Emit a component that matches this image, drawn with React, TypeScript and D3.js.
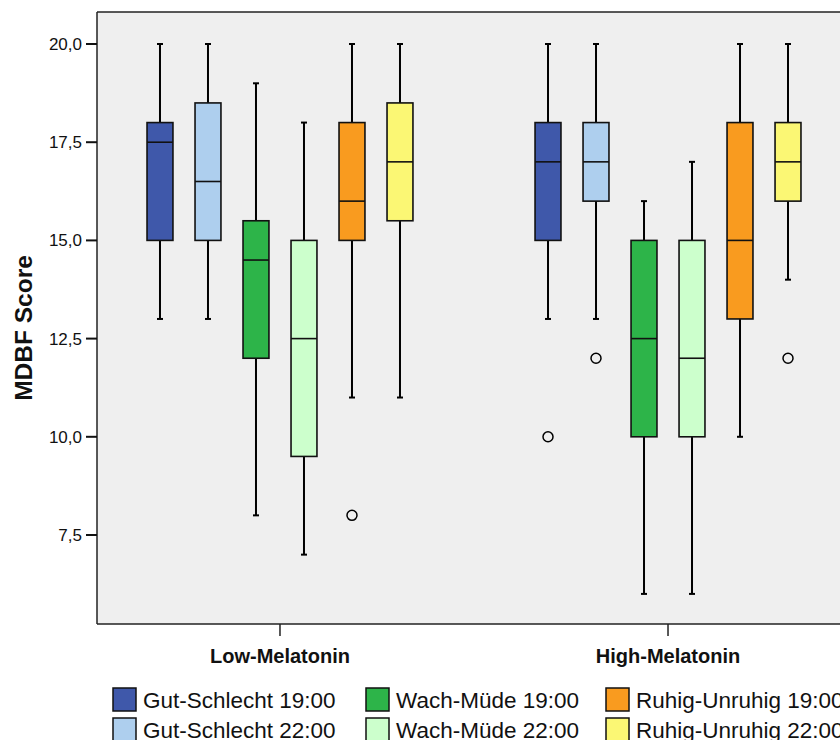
import React from 'react';
import * as d3 from 'd3';

// groups on the x axis
const groups = ['Low-Melatonin', 'High-Melatonin'];

// series (one box per series in each group)
const seriesNames = [
  'Gut-Schlecht 19:00',
  'Gut-Schlecht 22:00',
  'Wach-Müde 19:00',
  'Wach-Müde 22:00',
  'Ruhig-Unruhig 19:00',
  'Ruhig-Unruhig 22:00',
];
const seriesColors = ['#3F58AA', '#AECFEE', '#2DB449', '#CCFFCC', '#F99B1F', '#FBF774'];

// box stats per group, in series order: [whiskerLow, q1, median, q3, whiskerHigh]
const lowStats = [
  [13, 15, 17.5, 18, 20],
  [13, 15, 16.5, 18.5, 20],
  [8, 12, 14.5, 15.5, 19],
  [7, 9.5, 12.5, 15, 18],
  [11, 15, 16, 18, 20],
  [11, 15.5, 17, 18.5, 20],
];
const highStats = [
  [13, 15, 17, 18, 20],
  [13, 16, 17, 18, 20],
  [6, 10, 12.5, 15, 16],
  [6, 10, 12, 15, 17],
  [10, 13, 15, 18, 20],
  [14, 16, 17, 18, 20],
];
// outliers: [groupIndex, seriesIndex, value]
const outliers = [
  [0, 4, 8],
  [1, 0, 10],
  [1, 1, 12],
  [1, 5, 12],
];

const yTicks = [7.5, 10, 12.5, 15, 17.5, 20];

const W = 840;
const H = 740;
const plot = { left: 97, top: 12, right: 851, bottom: 624 };
const FONT = '"Liberation Sans", Arial, sans-serif';

const App: React.FC = () => {
  const x = d3.scalePoint<string>()
    .domain(groups)
    .range([plot.left, plot.right])
    .padding(0.4716);

  const inner = d3.scaleBand<string>()
    .domain(seriesNames)
    .range([-144, 144])
    .paddingInner(0.46)
    .paddingOuter(0.23);

  const y = d3.scaleLinear()
    .domain([5.234, 20.815])
    .range([plot.bottom, plot.top]);

  const fmt = (v: number) => d3.format('.1f')(v).replace('.', ',');
  const bw = inner.bandwidth();
  const capW = 6;

  const allStats = [lowStats, highStats];

  return (
    <svg width={W} height={H} style={{ position: 'absolute', left: 0, top: 0 }} fontFamily={FONT}>
      <rect x={0} y={0} width={W} height={H} fill="#fff" />
      <rect x={plot.left} y={plot.top} width={W - plot.left + 10} height={plot.bottom - plot.top}
        fill="#EFEFEF" />
      {/* frame */}
      <line x1={plot.left} x2={W} y1={plot.top} y2={plot.top} stroke="#222" strokeWidth={1.5} />
      <line x1={plot.left} x2={W} y1={plot.bottom} y2={plot.bottom} stroke="#222" strokeWidth={1.5} />
      <line x1={plot.left} x2={plot.left} y1={plot.top} y2={plot.bottom} stroke="#222" strokeWidth={1.5} />

      {/* y axis */}
      {yTicks.map(t => (
        <g key={t} transform={`translate(0,${y(t)})`}>
          <line x1={plot.left - 11} x2={plot.left} stroke="#111" strokeWidth={2} />
          <text x={plot.left - 15} dy="0.35em" textAnchor="end" fontSize={17} fill="#111">{fmt(t)}</text>
        </g>
      ))}
      <text transform={`translate(32,328) rotate(-90)`} textAnchor="middle"
        fontSize={24.5} fontWeight="bold" fill="#111">MDBF Score</text>

      {/* x axis */}
      {groups.map(g => (
        <g key={g} transform={`translate(${x(g)},0)`}>
          <line y1={plot.bottom} y2={plot.bottom + 12} stroke="#222" strokeWidth={1.5} />
          <text y={663} textAnchor="middle" fontSize={20} fontWeight="bold" fill="#111">{g}</text>
        </g>
      ))}

      {/* boxes */}
      {groups.map((g, gi) => seriesNames.map((s, si) => {
        const [lo, q1, med, q3, hi] = allStats[gi][si];
        const cx = (x(g) as number) + (inner(s) as number) + bw / 2;
        return (
          <g key={`${g}-${s}`}>
            <line x1={cx} x2={cx} y1={y(hi)} y2={y(lo)} stroke="#000" strokeWidth={2} />
            <line x1={cx - capW / 2} x2={cx + capW / 2} y1={y(hi)} y2={y(hi)} stroke="#000" strokeWidth={2} />
            <line x1={cx - capW / 2} x2={cx + capW / 2} y1={y(lo)} y2={y(lo)} stroke="#000" strokeWidth={2} />
            <rect x={cx - bw / 2} y={y(q3)} width={bw} height={y(q1) - y(q3)}
              fill={seriesColors[si]} stroke="#111" strokeWidth={1.6} />
            <line x1={cx - bw / 2} x2={cx + bw / 2} y1={y(med)} y2={y(med)} stroke="#111" strokeWidth={1.6} />
          </g>
        );
      }))}

      {/* outliers */}
      {outliers.map(([gi, si, v], i) => {
        const cx = (x(groups[gi]) as number) + (inner(seriesNames[si]) as number) + bw / 2;
        return <circle key={i} cx={cx} cy={y(v)} r={5} fill="none" stroke="#000" strokeWidth={1.5} />;
      })}

      {/* legend */}
      {seriesNames.map((s, i) => {
        const col = Math.floor(i / 2);
        const row = i % 2;
        const lx = [113, 366, 606][col];
        const ly = 688 + row * 30;
        return (
          <g key={s} transform={`translate(${lx},${ly})`}>
            <rect x={0} y={0} width={23} height={23} fill={seriesColors[i]} stroke="#111" strokeWidth={1.5} />
            <text x={30} y={20} fontSize={22.5} fill="#111">{s}</text>
          </g>
        );
      })}
    </svg>
  );
};

export default App;
